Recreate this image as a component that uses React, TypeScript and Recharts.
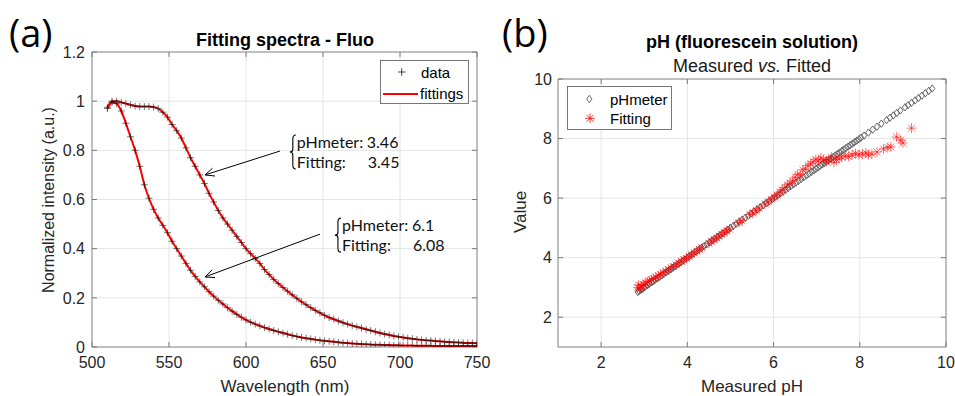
import React from 'react';
import {
  ComposedChart,
  Scatter,
  Line,
  XAxis,
  YAxis,
  CartesianGrid,
  ReferenceLine,
  ReferenceDot,
  ReferenceArea,
} from 'recharts';

const FONT = '"Liberation Sans", Arial, Helvetica, sans-serif';
const ANNOT_FONT = 'Lato, "Open Sans", sans-serif';
const PANEL_FONT = '"Open Sans", "Noto Sans", sans-serif';

// ---------------- Panel (a): spectra ----------------
const wavelengths = [
  510, 513, 516, 519, 522, 525, 528, 531, 534, 537, 540, 543, 546, 549, 552, 555, 558, 561, 564, 567,
  570, 573, 576, 579, 582, 585, 588, 591, 594, 597, 600, 603, 606, 609, 612, 615, 618, 621, 624, 627,
  630, 633, 636, 639, 642, 645, 648, 651, 654, 657, 660, 663, 666, 669, 672, 675, 678, 681, 684, 687,
  690, 693, 696, 699, 702, 705, 708, 711, 714, 717, 720, 723, 726, 729, 732, 735, 738, 741, 744, 747,
  750,
];

// pHmeter 3.46
const intensityPH346 = [
  0.975, 1.0, 1.0, 0.995, 0.99, 0.985, 0.98, 0.978, 0.978, 0.978, 0.976, 0.97, 0.955, 0.935, 0.905, 0.88, 0.85, 0.81, 0.77, 0.735,
  0.7, 0.665, 0.625, 0.59, 0.555, 0.525, 0.5, 0.475, 0.45, 0.425, 0.4, 0.38, 0.36, 0.34, 0.315, 0.295, 0.275, 0.258, 0.242, 0.227,
  0.212, 0.198, 0.184, 0.172, 0.16, 0.149, 0.139, 0.129, 0.12, 0.113, 0.106, 0.099, 0.093, 0.087, 0.082, 0.077, 0.072, 0.067, 0.062, 0.057,
  0.053, 0.049, 0.045, 0.042, 0.039, 0.036, 0.034, 0.031, 0.029, 0.027, 0.026, 0.024, 0.023, 0.021, 0.02, 0.019, 0.018, 0.017, 0.016, 0.016,
  0.015,
];

// pHmeter 6.1
const intensityPH61 = [
  0.97, 0.995, 0.99, 0.96, 0.91, 0.855, 0.8, 0.735, 0.66, 0.605, 0.56, 0.525, 0.495, 0.465, 0.43, 0.4, 0.37, 0.34, 0.312, 0.287,
  0.265, 0.245, 0.225, 0.207, 0.19, 0.175, 0.16, 0.146, 0.133, 0.121, 0.11, 0.101, 0.093, 0.086, 0.079, 0.073, 0.067, 0.062, 0.057, 0.052,
  0.047, 0.043, 0.039, 0.036, 0.033, 0.03, 0.027, 0.025, 0.023, 0.021, 0.019, 0.017, 0.016, 0.014, 0.013, 0.012, 0.011, 0.01, 0.009, 0.009,
  0.008, 0.008, 0.007, 0.007, 0.006, 0.006, 0.006, 0.005, 0.005, 0.005, 0.005, 0.004, 0.004, 0.004, 0.004, 0.004, 0.004, 0.004, 0.004, 0.004,
  0.004,
];

const wavelengthTicks = [500, 550, 600, 650, 700, 750];
const intensityTicks = [0, 0.2, 0.4, 0.6, 0.8, 1, 1.2];

// ---------------- Panel (b): pH ----------------
const measuredPH = [
  2.85, 2.88, 2.92, 2.95, 2.99, 3.03, 3.08, 3.12, 3.17, 3.21, 3.26, 3.31, 3.36, 3.41, 3.46, 3.51, 3.56, 3.61, 3.66, 3.71,
  3.77, 3.82, 3.88, 3.93, 3.99, 4.04, 4.1, 4.15, 4.21, 4.27, 4.33, 4.39, 4.45, 4.52, 4.58, 4.64, 4.7, 4.76, 4.82, 4.88,
  4.94, 5.0, 5.07, 5.13, 5.2, 5.27, 5.34, 5.41, 5.48, 5.55, 5.62, 5.69, 5.76, 5.83, 5.9, 5.97, 6.03, 6.1, 6.16, 6.22,
  6.28, 6.34, 6.4, 6.46, 6.52, 6.58, 6.64, 6.7, 6.76, 6.82, 6.88, 6.93, 6.98, 7.03, 7.08, 7.13, 7.18, 7.23, 7.28, 7.33,
  7.38, 7.43, 7.48, 7.53, 7.58, 7.63, 7.68, 7.73, 7.78, 7.83, 7.88, 7.93, 7.98, 8.03, 8.1, 8.2, 8.3, 8.4, 8.5, 8.62,
  8.7, 8.78, 8.86, 8.94, 9.05, 9.12, 9.2, 9.28, 9.36, 9.44, 9.52, 9.6, 9.68,
];

const fittingMeasured = [
  2.85, 2.87, 2.9, 2.93, 2.97, 3.0, 3.04, 3.08, 3.12, 3.17, 3.22, 3.27, 3.33, 3.38, 3.44, 3.5, 3.56, 3.62, 3.68, 3.74,
  3.8, 3.86, 3.92, 3.98, 4.04, 4.1, 4.16, 4.22, 4.28, 4.34, 4.5, 4.56, 4.62, 4.68, 4.74, 4.8, 4.86, 4.92, 4.98, 5.2,
  5.27, 5.45, 5.52, 5.6, 5.67, 5.8, 5.88, 5.95, 6.02, 6.08, 6.15, 6.2, 6.26, 6.32, 6.38, 6.44, 6.5, 6.56, 6.62, 6.68,
  6.74, 6.8, 6.86, 6.92, 6.98, 7.04, 7.1, 7.16, 7.22, 7.28, 7.34, 7.4, 7.46, 7.52, 7.58, 7.66, 7.74, 7.82, 7.9, 7.98,
  8.06, 8.14, 8.2, 8.28, 8.4, 8.55, 8.65, 8.72, 8.85, 8.95, 9.0, 9.2,
];

const fittingValue = [
  3.0, 3.08, 2.95, 3.05, 3.1, 3.08, 3.15, 3.2, 3.22, 3.27, 3.3, 3.35, 3.4, 3.44, 3.5, 3.55, 3.6, 3.66, 3.7, 3.76,
  3.82, 3.88, 3.93, 3.98, 4.04, 4.1, 4.16, 4.22, 4.28, 4.33, 4.48, 4.55, 4.6, 4.66, 4.72, 4.78, 4.84, 4.9, 4.96, 5.18,
  5.24, 5.45, 5.5, 5.58, 5.66, 5.8, 5.88, 5.96, 6.04, 6.1, 6.2, 6.28, 6.36, 6.45, 6.5, 6.58, 6.7, 6.8, 6.78, 6.95,
  6.98, 7.1, 7.15, 7.22, 7.3, 7.25, 7.35, 7.3, 7.22, 7.28, 7.38, 7.2, 7.3, 7.32, 7.38, 7.42, 7.4, 7.45, 7.5, 7.45,
  7.48, 7.52, 7.45, 7.48, 7.55, 7.65, 7.7, 7.72, 8.05, 7.95, 7.85, 8.35,
];

const phTicks = [2, 4, 6, 8, 10];

// --------- derived tables ---------
const spectrumA = wavelengths.map((w, i) => ({ x: w, y: intensityPH346[i] }));
const spectrumB = wavelengths.map((w, i) => ({ x: w, y: intensityPH61[i] }));
const pHmeterPoints = measuredPH.map((v) => ({ x: v, y: v }));
const fittingPoints = fittingMeasured.map((v, i) => ({ x: v, y: fittingValue[i] }));

// --------- marker shapes ---------
const PlusMarker = (props: any) => {
  const { cx, cy } = props;
  if (cx == null || cy == null) return null;
  const s = 3.5;
  return (
    <path
      d={`M${cx - s},${cy}H${cx + s}M${cx},${cy - s}V${cy + s}`}
      stroke="#111"
      strokeWidth={0.8}
      strokeOpacity={0.7}
      fill="none"
    />
  );
};

const DiamondMarker = (props: any) => {
  const { cx, cy } = props;
  if (cx == null || cy == null) return null;
  const w = 2.7;
  const h = 3.7;
  return (
    <path
      d={`M${cx},${cy - h}L${cx + w},${cy}L${cx},${cy + h}L${cx - w},${cy}Z`}
      stroke="#444"
      strokeWidth={0.8}
      fill="none"
    />
  );
};

const AsteriskMarker = (props: any) => {
  const { cx, cy } = props;
  if (cx == null || cy == null) return null;
  const s = 4.8;
  const d = s * 0.72;
  return (
    <path
      d={`M${cx - s},${cy}H${cx + s}M${cx},${cy - s}V${cy + s}M${cx - d},${cy - d}L${cx + d},${cy + d}M${cx - d},${cy + d}L${cx + d},${cy - d}`}
      stroke="#ff0000"
      strokeWidth={0.8}
      strokeOpacity={0.7}
      fill="none"
    />
  );
};

// --------- annotation shapes ---------
const ArrowShape = (props: any) => {
  const { x1, y1, x2, y2 } = props;
  if (x1 == null) return null;
  const ang = Math.atan2(y2 - y1, x2 - x1);
  const L = 10;
  const w = 0.42;
  const ax = x2 - L * Math.cos(ang - w);
  const ay = y2 - L * Math.sin(ang - w);
  const bx = x2 - L * Math.cos(ang + w);
  const by = y2 - L * Math.sin(ang + w);
  return (
    <g>
      <line x1={x1} y1={y1} x2={x2} y2={y2} stroke="#000" strokeWidth={1} />
      <polyline points={`${ax},${ay} ${x2},${y2} ${bx},${by}`} stroke="#000" strokeWidth={1} fill="none" />
    </g>
  );
};

const TickMark = (props: any) => {
  const { x1, y1, x2, y2 } = props;
  if (x1 == null) return null;
  return <line x1={x1} y1={y1} x2={x2} y2={y2} stroke="#7a7a7a" strokeWidth={1} />;
};

const makeAnnotation = (phValue: string, fitValue: string) => (props: any) => {
  const { cx, cy } = props;
  if (cx == null) return null;
  const bx = cx - 4;
  const top = cy - 17;
  const bot = cy + 17;
  const brace = `M${bx + 3},${top} Q${bx},${top} ${bx},${top + 4} L${bx},${cy - 3} Q${bx},${cy} ${bx - 3},${cy} Q${bx},${cy} ${bx},${cy + 3} L${bx},${bot - 4} Q${bx},${bot} ${bx + 3},${bot}`;
  const style = { fontFamily: ANNOT_FONT, fontSize: 16, fill: '#111' };
  return (
    <g>
      <path d={brace} stroke="#000" strokeWidth={1.1} fill="none" />
      <text x={cx} y={cy - 4} style={style}>pHmeter:</text>
      <text x={cx + 70} y={cy - 4} style={style}>{phValue}</text>
      <text x={cx} y={cy + 16} style={style}>Fitting:</text>
      <text x={cx + 71} y={cy + 16} style={style}>{fitValue}</text>
    </g>
  );
};

const tickStyle = { fontFamily: FONT, fontSize: 16, fill: '#262626' };
const GRID = '#e4e4e4';
const BOX = '#8c8c8c';

export default function App() {
  return (
    <div style={{ position: 'absolute', left: 0, top: 0, width: 955, height: 396, background: '#fff', overflow: 'hidden' }}>
      {/* Panel (a) */}
      <div style={{ position: 'absolute', left: 0, top: 0 }}>
        <ComposedChart width={510} height={396} margin={{ top: 52, right: 33, bottom: 19, left: 52 }}>
          <CartesianGrid stroke={GRID} strokeWidth={1} />
          <XAxis
            dataKey="x"
            type="number"
            domain={[500, 750]}
            ticks={wavelengthTicks}
            allowDataOverflow
            axisLine={false}
            tickLine={false}
            tickSize={0}
            tickMargin={10}
            height={30}
            tick={tickStyle}
            interval={0}
          />
          <YAxis
            type="number"
            domain={[0, 1.2]}
            ticks={intensityTicks}
            allowDataOverflow
            axisLine={false}
            tickLine={false}
            tickSize={0}
            tickMargin={7}
            width={40}
            tick={tickStyle}
            interval={0}
          />
          <ReferenceArea x1={500} x2={750} y1={0} y2={1.2} fill="none" stroke={BOX} strokeWidth={1} ifOverflow="visible" />
          {wavelengthTicks.map((t) => (
            <ReferenceLine key={`xb${t}`} segment={[{ x: t, y: 0 }, { x: t, y: 0.02 }]} shape={TickMark} ifOverflow="visible" />
          ))}
          {wavelengthTicks.map((t) => (
            <ReferenceLine key={`xt${t}`} segment={[{ x: t, y: 1.2 }, { x: t, y: 1.18 }]} shape={TickMark} ifOverflow="visible" />
          ))}
          {intensityTicks.map((t) => (
            <ReferenceLine key={`yl${t}`} segment={[{ x: 500, y: t }, { x: 503.2, y: t }]} shape={TickMark} ifOverflow="visible" />
          ))}
          {intensityTicks.map((t) => (
            <ReferenceLine key={`yr${t}`} segment={[{ x: 750, y: t }, { x: 746.8, y: t }]} shape={TickMark} ifOverflow="visible" />
          ))}
          <Scatter data={spectrumA} dataKey="y" shape={PlusMarker} isAnimationActive={false} />
          <Scatter data={spectrumB} dataKey="y" shape={PlusMarker} isAnimationActive={false} />
          <Line data={spectrumA} dataKey="y" type="monotone" stroke="#ff0000" strokeWidth={2} dot={false} isAnimationActive={false} />
          <Line data={spectrumB} dataKey="y" type="monotone" stroke="#ff0000" strokeWidth={2} dot={false} isAnimationActive={false} />
          <ReferenceLine segment={[{ x: 622, y: 0.797 }, { x: 573.4, y: 0.7 }]} shape={ArrowShape} ifOverflow="visible" />
          <ReferenceLine segment={[{ x: 648, y: 0.459 }, { x: 573.4, y: 0.285 }]} shape={ArrowShape} ifOverflow="visible" />
          <ReferenceDot x={633} y={0.793} r={0} shape={makeAnnotation('3.46', '3.45')} ifOverflow="visible" />
          <ReferenceDot x={662.3} y={0.455} r={0} shape={makeAnnotation('6.1', '6.08')} ifOverflow="visible" />
        </ComposedChart>
      </div>

      {/* Panel (b) */}
      <div style={{ position: 'absolute', left: 480, top: 0 }}>
        <ComposedChart width={475} height={396} margin={{ top: 79, right: 9, bottom: 19, left: 48 }}>
          <CartesianGrid stroke={GRID} strokeWidth={1} />
          <XAxis
            dataKey="x"
            type="number"
            domain={[1, 10]}
            ticks={phTicks}
            allowDataOverflow
            axisLine={false}
            tickLine={false}
            tickSize={0}
            tickMargin={10}
            height={30}
            tick={tickStyle}
            interval={0}
          />
          <YAxis
            type="number"
            domain={[1, 10]}
            ticks={phTicks}
            allowDataOverflow
            axisLine={false}
            tickLine={false}
            tickSize={0}
            tickMargin={6}
            width={30}
            tick={tickStyle}
            interval={0}
          />
          <ReferenceArea x1={1} x2={10} y1={1} y2={10} fill="none" stroke={BOX} strokeWidth={1} ifOverflow="visible" />
          {phTicks.map((t) => (
            <ReferenceLine key={`xb${t}`} segment={[{ x: t, y: 1 }, { x: t, y: 1.17 }]} shape={TickMark} ifOverflow="visible" />
          ))}
          {phTicks.map((t) => (
            <ReferenceLine key={`xt${t}`} segment={[{ x: t, y: 10 }, { x: t, y: 9.83 }]} shape={TickMark} ifOverflow="visible" />
          ))}
          {phTicks.map((t) => (
            <ReferenceLine key={`yl${t}`} segment={[{ x: 1, y: t }, { x: 1.12, y: t }]} shape={TickMark} ifOverflow="visible" />
          ))}
          {phTicks.map((t) => (
            <ReferenceLine key={`yr${t}`} segment={[{ x: 10, y: t }, { x: 9.88, y: t }]} shape={TickMark} ifOverflow="visible" />
          ))}
          <Scatter data={pHmeterPoints} dataKey="y" shape={DiamondMarker} isAnimationActive={false} />
          <Scatter data={fittingPoints} dataKey="y" shape={AsteriskMarker} isAnimationActive={false} />
        </ComposedChart>
      </div>

      {/* Titles, labels, legends */}
      <svg width={955} height={396} style={{ position: 'absolute', left: 0, top: 0, pointerEvents: 'none' }}>
        <text x={9} y={47} style={{ fontFamily: PANEL_FONT, fontSize: 38, fill: '#000' }}>(a)</text>
        <text x={502} y={47} style={{ fontFamily: PANEL_FONT, fontSize: 38, fill: '#000' }}>(b)</text>

        <text x={285} y={45.5} textAnchor="middle" style={{ fontFamily: FONT, fontSize: 18, fontWeight: 'bold', fill: '#000' }}>
          Fitting spectra - Fluo
        </text>
        <text x={752} y={48} textAnchor="middle" style={{ fontFamily: FONT, fontSize: 18, fontWeight: 'bold', fill: '#000' }}>
          pH (fluorescein solution)
        </text>
        <text x={752} y={72} textAnchor="middle" style={{ fontFamily: FONT, fontSize: 18, fill: '#1a1a1a' }}>
          Measured <tspan fontStyle="italic">vs.</tspan> Fitted
        </text>

        <text x={285} y={392} textAnchor="middle" style={{ fontFamily: FONT, fontSize: 17, fill: '#262626' }}>
          Wavelength (nm)
        </text>
        <text x={752} y={392} textAnchor="middle" style={{ fontFamily: FONT, fontSize: 17, fill: '#262626' }}>
          Measured pH
        </text>
        <text x={54} y={200} transform="rotate(-90 54 200)" textAnchor="middle" style={{ fontFamily: FONT, fontSize: 16, fill: '#262626' }}>
          Normalized intensity (a.u.)
        </text>
        <text x={526} y={212} transform="rotate(-90 526 212)" textAnchor="middle" style={{ fontFamily: FONT, fontSize: 17, fill: '#262626' }}>
          Value
        </text>

        {/* legend (a) */}
        <rect x={380.5} y={60.5} width={88} height={43} fill="#fff" stroke="#555" strokeWidth={0.8} />
        <path d="M398,72H405.5M401.7,68.2V75.8" stroke="#111" strokeWidth={0.8} />
        <text x={421} y={78} style={{ fontFamily: FONT, fontSize: 15, fill: '#000' }}>data</text>
        <line x1={383} y1={94} x2={418} y2={94} stroke="#ff0000" strokeWidth={2} />
        <text x={420} y={98.5} style={{ fontFamily: FONT, fontSize: 15, fill: '#000' }}>fittings</text>

        {/* legend (b) */}
        <rect x={567.5} y={86.5} width={104} height={43} fill="#fff" stroke="#555" strokeWidth={0.8} />
        <path d="M589.3,95.3L592,99L589.3,102.7L586.6,99Z" stroke="#444" strokeWidth={0.8} fill="none" />
        <text x={610} y={104.5} style={{ fontFamily: FONT, fontSize: 15, fill: '#000' }}>pHmeter</text>
        <path d="M585.2,118.3H594.8M590,113.5V123.1M586.5,114.8L593.5,121.8M586.5,121.8L593.5,114.8" stroke="#ff0000" strokeWidth={0.8} />
        <text x={610} y={124} style={{ fontFamily: FONT, fontSize: 15, fill: '#000' }}>Fitting</text>
      </svg>
    </div>
  );
}
